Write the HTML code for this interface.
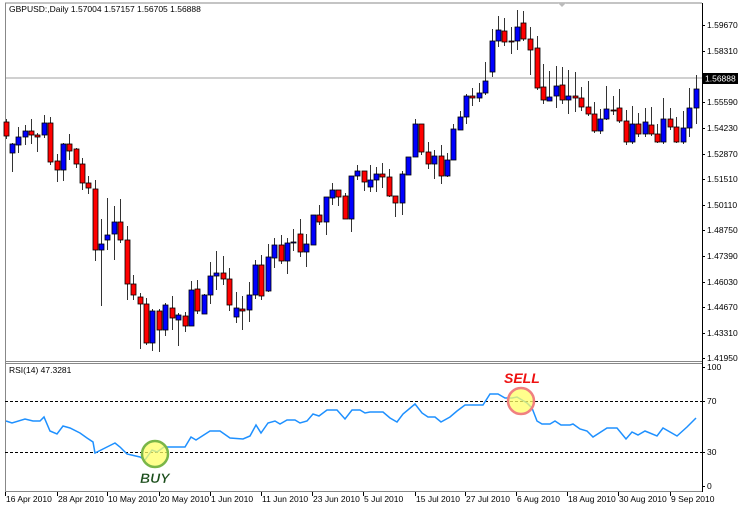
<!DOCTYPE html>
<html><head><meta charset="utf-8"><style>
html,body{margin:0;padding:0;background:#fff;}
svg{display:block;font-family:"Liberation Sans",sans-serif;}
</style></head><body>
<svg id="s" width="739" height="508" viewBox="0 0 739 508" xmlns="http://www.w3.org/2000/svg">
<rect width="739" height="508" fill="#fff"/>
<line x1="5" y1="3" x2="702" y2="3" stroke="#888"/>
<line x1="5.5" y1="3" x2="5.5" y2="492" stroke="#888"/>
<line x1="702.5" y1="3" x2="702.5" y2="492" stroke="#000"/>
<line x1="5" y1="361.5" x2="702" y2="361.5" stroke="#888"/>
<line x1="5" y1="363.5" x2="702" y2="363.5" stroke="#888"/>
<line x1="5" y1="491.5" x2="702" y2="491.5" stroke="#888"/>
<line x1="6" y1="78" x2="702" y2="78" stroke="#d0d0d0" stroke-width="2"/>
<text x="9" y="12" font-size="8.5" fill="#000">GBPUSD:,Daily  1.57004 1.57157 1.56705 1.56888</text>
<text x="9" y="373" font-size="8.5" fill="#000">RSI(14) 47.3281</text>
<g id="c"></g>
<g id="ax" font-size="8.5" fill="#000"></g>
<line x1="5" y1="401.5" x2="702" y2="401.5" stroke="#000" stroke-dasharray="3,2"/>
<line x1="5" y1="452.5" x2="702" y2="452.5" stroke="#000" stroke-dasharray="3,2"/>
<polyline id="rsi" fill="none" stroke="#1e90ff" stroke-width="1.5"/>
<circle cx="155" cy="454" r="13" fill="#ffff66" fill-opacity="0.75" stroke="#7ab648" stroke-width="2.5"/>
<text x="140" y="483" font-size="14" font-weight="bold" font-style="italic" fill="#1a4d1a" stroke="#fff" stroke-width="0.3">BUY</text>
<circle cx="521" cy="401" r="13" fill="#ffff66" fill-opacity="0.75" stroke="#f08080" stroke-width="2.5"/>
<text x="504" y="383" font-size="14" font-weight="bold" font-style="italic" fill="#ee1111">SELL</text>
<rect x="703" y="73" width="35" height="11" fill="#000"/>
<text x="705" y="81.5" font-size="8.5" fill="#fff">1.56888</text>
<polygon points="558,3 566,3 562,7" fill="#bbb"/>
</svg>
<script>
var C=[
[6,'r',122,136,119,139],[12,'b',153,144,143,172],[18,'b',145,137,127,153],[25,'b',137,131,125,145],[31,'r',131,135,119,144],[37,'r',135,137,133,152],[44,'b',135,123,115,138],[50,'r',123,162,117,165],[57,'r',161,170,154,182],[63,'b',170,144,143,181],[69,'r',144,151,134,160],[76,'r',149,164,148,168],[82,'r',164,183,158,190],[88,'r',183,188,176,194],[95,'r',189,250,180,261],[101,'b',250,244,219,306],[107,'b',240,235,198,250],[114,'b',234,222,206,260],[120,'r',222,240,199,243],[127,'r',240,284,226,300],[133,'r',284,295,275,300],[140,'r',297,304,293,349],[146,'r',304,343,298,345],[152,'b',343,311,309,351],[159,'r',311,330,309,352],[165,'b',330,305,303,336],[172,'r',308,318,296,330],[178,'b',320,315,313,346],[185,'r',316,326,312,332],[191,'b',326,290,281,326],[197,'r',289,311,280,314],[204,'b',314,295,294,314],[210,'b',295,276,262,304],[216,'b',276,273,251,290],[223,'r',273,279,256,285],[229,'r',279,305,268,311],[236,'b',317,308,292,323],
[242,'r',309,311,296,330],[249,'b',310,295,282,322],[255,'b',295,265,260,299],[261,'r',265,296,255,300],[268,'b',291,257,244,292],[274,'b',258,245,238,268],[281,'r',245,261,235,264],[287,'b',261,243,238,274],[293,'b',243,242,229,251],[300,'r',234,252,219,257],[306,'b',252,244,234,267],[313,'b',245,215,215,245],[319,'r',215,222,205,225],[326,'b',222,197,197,235],[332,'b',198,190,183,205],[338,'r',190,197,190,206],[345,'r',196,219,193,219],[351,'b',219,176,176,232],[357,'b',176,171,165,180],[364,'r',171,182,171,191],[370,'b',187,180,165,192],[376,'b',180,174,167,192],[382,'r',174,177,163,188],[389,'r',177,196,169,197],[395,'r',196,203,196,217],[402,'b',203,174,171,215],[408,'b',175,157,157,175],[415,'b',157,124,119,157],[421,'r',124,152,124,155],[428,'r',152,164,142,169],[434,'b',164,156,150,179],[441,'r',156,176,145,184],[447,'b',176,160,153,177],[453,'b',160,129,124,160],[460,'b',130,117,111,130],[466,'b',117,96,94,124],
[472,'r',96,98,88,106],[479,'b',98,93,83,102],[485,'b',93,81,62,95],[492,'b',72,41,29,77],[498,'b',41,30,16,47],[504,'r',31,42,18,46],[511,'r',41,42,27,54],[517,'b',41,27,10,50],[523,'r',23,39,11,41],[530,'r',39,50,27,75],[537,'r',48,88,36,90],[543,'r',87,100,64,104],[549,'b',101,97,71,101],[556,'b',96,86,66,108],[562,'r',85,100,67,104],[568,'b',100,96,70,114],[575,'r',96,98,72,112],[581,'r',98,107,87,111],[588,'r',107,114,81,116],[594,'r',114,131,102,133],[600,'b',131,119,109,134],[606,'b',119,109,86,120],[613,'r',110,111,96,115],[619,'r',108,121,89,123],[626,'r',121,142,110,145],[632,'b',142,124,106,144],[638,'r',124,134,113,137],[645,'b',134,122,108,137],[651,'r',125,134,107,136],[657,'r',134,142,124,143],[663,'b',142,119,98,144],[670,'r',119,127,108,130],[676,'r',127,142,117,143],[683,'b',142,128,111,144],[689,'b',128,108,88,137],[696,'b',108,89,75,124]];
var g=document.getElementById('c'),h='';
C.forEach(function(c){var x=c[0],t=Math.min(c[2],c[3]),b=Math.max(c[2],c[3]);if(b-t<1)b=t+1;
h+='<line x1="'+(x+0.5)+'" y1="'+c[4]+'" x2="'+(x+0.5)+'" y2="'+c[5]+'" stroke="#333" stroke-width="1"/>';
h+='<rect x="'+(x-2)+'" y="'+t+'" width="5" height="'+(b-t)+'" fill="'+(c[1]=='r'?'#ff0000':'#0000ff')+'" stroke="#000" stroke-width="0.8"/>';});
g.innerHTML=h;
var R=[[6,421],[12,423],[25,419],[33,421],[40,421],[44,417],[50,431],[57,434],[63,426],[70,428],[80,433],[87,438],[93,442],[95,453],[107,447],[115,443],[120,447],[127,454],[140,457],[145,460],[152,450],[157,452],[164,447],[172,447],[185,447],[191,437],[196,440],[210,431],[220,431],[230,438],[243,439],[250,436],[256,425],[261,433],[268,423],[275,421],[280,424],[287,420],[295,420],[300,423],[307,421],[313,414],[319,416],[327,410],[337,410],[345,419],[352,410],[360,410],[365,413],[370,412],[383,412],[390,418],[397,422],[403,414],[415,404],[422,413],[428,417],[435,417],[441,422],[450,417],[457,411],[465,405],[483,405],[490,394],[498,394],[505,398],[512,398],[517,397],[527,403],[532,408],[537,421],[542,424],[550,424],[555,421],[561,425],[570,425],[573,424],[580,429],[587,431],[593,437],[607,428],[617,428],[626,439],[632,432],[638,435],[645,431],[657,436],[663,428],[677,436],[687,427],[696,418]];
document.getElementById('rsi').setAttribute('points',R.map(function(p){return p.join(',')}).join(' '));
var ax='';
var P=[['1.59670',25],['1.58310',51],['1.55590',102],['1.54230',128],['1.52870',154],['1.51510',179],['1.50110',205],['1.48750',230],['1.47390',256],['1.46030',282],['1.44670',307],['1.43310',333],['1.41950',358],['100',367],['70',401],['30',452],['0',486]];
P.forEach(function(p){ax+='<line x1="702" y1="'+(p[1]+0.5)+'" x2="705" y2="'+(p[1]+0.5)+'" stroke="#000"/><text x="707" y="'+(p[1]+3)+'">'+p[0]+'</text>';});
var D=[['16 Apr 2010',5],['28 Apr 2010',57],['10 May 2010',107],['20 May 2010',159],['1 Jun 2010',210],['11 Jun 2010',261],['23 Jun 2010',312],['5 Jul 2010',363],['15 Jul 2010',415],['27 Jul 2010',465],['6 Aug 2010',516],['18 Aug 2010',567],['30 Aug 2010',618],['9 Sep 2010',670]];
D.forEach(function(d){ax+='<line x1="'+(d[1]+0.5)+'" y1="492" x2="'+(d[1]+0.5)+'" y2="496" stroke="#000"/><text x="'+(d[1]+1)+'" y="502">'+d[0]+'</text>';});
document.getElementById('ax').innerHTML=ax;
</script>
</body></html>
